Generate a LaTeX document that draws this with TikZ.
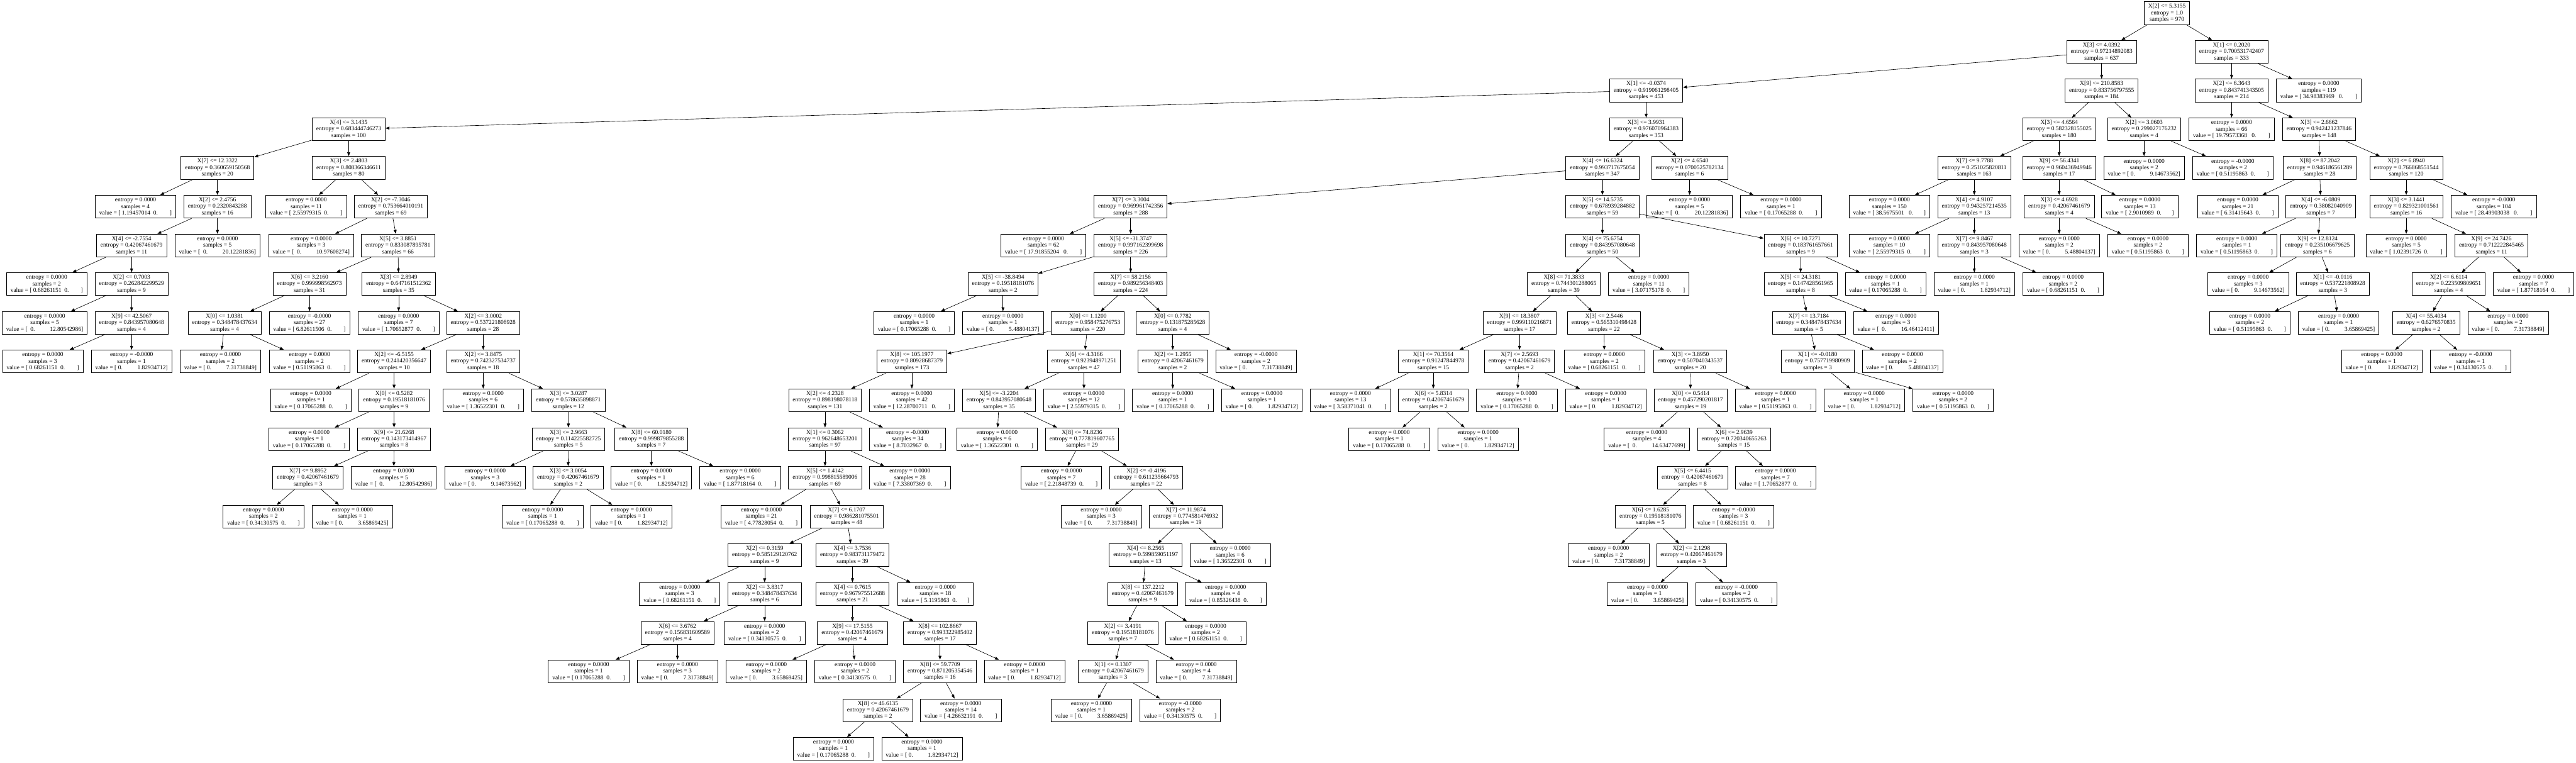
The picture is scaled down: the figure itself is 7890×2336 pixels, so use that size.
\documentclass[tikz,border=0pt]{standalone}
\usepackage{fontspec}
\setmainfont{Liberation Serif}
\usepackage{tikz}
\usetikzlibrary{arrows.meta}
\newcommand{\spgap}[1]{\hspace*{#1\fontdimen2\font}}

\begin{document}
\begin{tikzpicture}[x=0.01cm, y=-0.01cm]
                  \tikzstyle{box}=[draw, rectangle, line width=0.45pt, align=center, font=\fontsize{5.2}{5.66}\selectfont, inner xsep=0.125cm, inner ysep=0pt, minimum height=0.7cm]
                  \tikzstyle{every edge}=[draw, line width=0.35pt, -{Triangle[length=1.2mm, width=0.9mm]}]
                  \useasboundingbox (0,0) rectangle (7890,2336);

                  \node[box] (n0) at (6637,40) {X[2] <= 5.3155\\entropy = 1.0\\samples = 970};
                  \node[box] (n1) at (6437,159) {X[3] <= 4.0392\\entropy = 0.97214892083\\samples = 637};
                  \node[box] (n2) at (5042,277) {X[1] <= -0.0374\\entropy = 0.919061298405\\samples = 453};
                  \node[box] (n3) at (1068,396) {X[4] <= 3.1435\\entropy = 0.683444746273\\samples = 100};
                  \node[box] (n4) at (666,514) {X[7] <= 12.3322\\entropy = 0.360659150568\\samples = 20};
                  \node[box] (n5) at (415,633) {entropy = 0.0000\\samples = 4\\value = [ 1.19457014\spgap{2}0.\spgap{8}]};
                  \node[box] (n6) at (666,633) {X[2] <= 2.4756\\entropy = 0.2320843288\\samples = 16};
                  \node[box] (n7) at (403,752) {X[4] <= -2.7554\\entropy = 0.42067461679\\samples = 11};
                  \node[box] (n8) at (143,870) {entropy = 0.0000\\samples = 2\\value = [ 0.68261151\spgap{2}0.\spgap{8}]};
                  \node[box] (n9) at (403,870) {X[2] <= 0.7003\\entropy = 0.262842299529\\samples = 9};
                  \node[box] (n10) at (137,989) {entropy = 0.0000\\samples = 5\\value = [\spgap{2}0.\spgap{10}12.80542986]};
                  \node[box] (n11) at (403,989) {X[9] <= 42.5067\\entropy = 0.843957080648\\samples = 4};
                  \node[box] (n12) at (131,1107) {entropy = 0.0000\\samples = 3\\value = [ 0.68261151\spgap{2}0.\spgap{8}]};
                  \node[box] (n13) at (403,1107) {entropy = -0.0000\\samples = 1\\value = [ 0.\spgap{10}1.82934712]};
                  \node[box] (n14) at (666,752) {entropy = 0.0000\\samples = 5\\value = [\spgap{2}0.\spgap{10}20.12281836]};
                  \node[box] (n15) at (1068,514) {X[3] <= 2.4803\\entropy = 0.808366346611\\samples = 80};
                  \node[box] (n16) at (938,633) {entropy = 0.0000\\samples = 11\\value = [ 2.55979315\spgap{2}0.\spgap{8}]};
                  \node[box] (n17) at (1197,633) {X[2] <= -7.3046\\entropy = 0.753664010191\\samples = 69};
                  \node[box] (n18) at (953,752) {entropy = 0.0000\\samples = 3\\value = [\spgap{2}0.\spgap{10}10.97608274]};
                  \node[box] (n19) at (1219,752) {X[5] <= 3.8851\\entropy = 0.833087895781\\samples = 66};
                  \node[box] (n20) at (948,870) {X[6] <= 3.2160\\entropy = 0.999998562973\\samples = 31};
                  \node[box] (n21) at (688,989) {X[0] <= 1.0381\\entropy = 0.348478437634\\samples = 4};
                  \node[box] (n22) at (675,1107) {entropy = 0.0000\\samples = 2\\value = [ 0.\spgap{10}7.31738849]};
                  \node[box] (n23) at (948,1107) {entropy = 0.0000\\samples = 2\\value = [ 0.51195863\spgap{2}0.\spgap{8}]};
                  \node[box] (n24) at (948,989) {entropy = -0.0000\\samples = 27\\value = [ 6.82611506\spgap{2}0.\spgap{8}]};
                  \node[box] (n25) at (1221,870) {X[3] <= 2.8949\\entropy = 0.647161512362\\samples = 35};
                  \node[box] (n26) at (1221,989) {entropy = 0.0000\\samples = 7\\value = [ 1.70652877\spgap{2}0.\spgap{8}]};
                  \node[box] (n27) at (1480,989) {X[2] <= 3.0002\\entropy = 0.537221808928\\samples = 28};
                  \node[box] (n28) at (1207,1107) {X[2] <= -6.5155\\entropy = 0.241420356647\\samples = 10};
                  \node[box] (n29) at (952,1226) {entropy = 0.0000\\samples = 1\\value = [ 0.17065288\spgap{2}0.\spgap{8}]};
                  \node[box] (n30) at (1207,1226) {X[0] <= 0.5282\\entropy = 0.19518181076\\samples = 9};
                  \node[box] (n31) at (947,1345) {entropy = 0.0000\\samples = 1\\value = [ 0.17065288\spgap{2}0.\spgap{8}]};
                  \node[box] (n32) at (1207,1345) {X[9] <= 21.6268\\entropy = 0.143173414967\\samples = 8};
                  \node[box] (n33) at (943,1463) {X[7] <= 9.8952\\entropy = 0.42067461679\\samples = 3};
                  \node[box] (n34) at (807,1582) {entropy = 0.0000\\samples = 2\\value = [ 0.34130575\spgap{2}0.\spgap{8}]};
                  \node[box] (n35) at (1079,1582) {entropy = 0.0000\\samples = 1\\value = [ 0.\spgap{10}3.65869425]};
                  \node[box] (n36) at (1206,1463) {entropy = 0.0000\\samples = 5\\value = [\spgap{2}0.\spgap{10}12.80542986]};
                  \node[box] (n37) at (1480,1107) {X[2] <= 3.8475\\entropy = 0.742327534737\\samples = 18};
                  \node[box] (n38) at (1480,1226) {entropy = 0.0000\\samples = 6\\value = [ 1.36522301\spgap{2}0.\spgap{8}]};
                  \node[box] (n39) at (1741,1226) {X[3] <= 3.0287\\entropy = 0.578635898871\\samples = 12};
                  \node[box] (n40) at (1741,1345) {X[3] <= 2.9663\\entropy = 0.114225582725\\samples = 5};
                  \node[box] (n41) at (1486,1463) {entropy = 0.0000\\samples = 3\\value = [ 0.\spgap{10}9.14673562]};
                  \node[box] (n42) at (1740,1463) {X[3] <= 3.0054\\entropy = 0.42067461679\\samples = 2};
                  \node[box] (n43) at (1662,1582) {entropy = 0.0000\\samples = 1\\value = [ 0.17065288\spgap{2}0.\spgap{8}]};
                  \node[box] (n44) at (1934,1582) {entropy = 0.0000\\samples = 1\\value = [ 0.\spgap{10}1.82934712]};
                  \node[box] (n45) at (1995,1345) {X[8] <= 60.0180\\entropy = 0.999879855288\\samples = 7};
                  \node[box] (n46) at (1995,1463) {entropy = 0.0000\\samples = 1\\value = [ 0.\spgap{10}1.82934712]};
                  \node[box] (n47) at (2267,1463) {entropy = 0.0000\\samples = 6\\value = [ 1.87718164\spgap{2}0.\spgap{8}]};
                  \node[box] (n48) at (5042,396) {X[3] <= 3.9931\\entropy = 0.976070964383\\samples = 353};
                  \node[box] (n49) at (4908,514) {X[4] <= 16.6324\\entropy = 0.993717675054\\samples = 347};
                  \node[box] (n50) at (3463,633) {X[7] <= 3.3004\\entropy = 0.969961742356\\samples = 288};
                  \node[box] (n51) at (3196,752) {entropy = 0.0000\\samples = 62\\value = [ 17.91855204\spgap{3}0.\spgap{8}]};
                  \node[box] (n52) at (3463,752) {X[5] <= -31.3747\\entropy = 0.997162399698\\samples = 226};
                  \node[box] (n53) at (3072,870) {X[5] <= -38.8494\\entropy = 0.19518181076\\samples = 2};
                  \node[box] (n54) at (2800,989) {entropy = 0.0000\\samples = 1\\value = [ 0.17065288\spgap{2}0.\spgap{8}]};
                  \node[box] (n55) at (3072,989) {entropy = 0.0000\\samples = 1\\value = [ 0.\spgap{10}5.48804137]};
                  \node[box] (n56) at (3463,870) {X[7] <= 58.2156\\entropy = 0.989256348403\\samples = 224};
                  \node[box] (n57) at (3332,989) {X[0] <= 1.1200\\entropy = 0.958475276753\\samples = 220};
                  \node[box] (n58) at (2793,1107) {X[8] <= 105.1977\\entropy = 0.80928687379\\samples = 173};
                  \node[box] (n59) at (2527,1226) {X[2] <= 4.2328\\entropy = 0.898198078118\\samples = 131};
                  \node[box] (n60) at (2527,1345) {X[1] <= 0.3062\\entropy = 0.962648653201\\samples = 97};
                  \node[box] (n61) at (2527,1463) {X[5] <= 1.4142\\entropy = 0.998815589006\\samples = 69};
                  \node[box] (n62) at (2332,1582) {entropy = 0.0000\\samples = 21\\value = [ 4.77828054\spgap{2}0.\spgap{8}]};
                  \node[box] (n63) at (2593,1582) {X[7] <= 6.1707\\entropy = 0.986281075501\\samples = 48};
                  \node[box] (n64) at (2342,1700) {X[2] <= 0.3159\\entropy = 0.585129120762\\samples = 9};
                  \node[box] (n65) at (2082,1819) {entropy = 0.0000\\samples = 3\\value = [ 0.68261151\spgap{2}0.\spgap{8}]};
                  \node[box] (n66) at (2342,1819) {X[2] <= 3.8317\\entropy = 0.348478437634\\samples = 6};
                  \node[box] (n67) at (2075,1938) {X[6] <= 3.6762\\entropy = 0.156831609589\\samples = 4};
                  \node[box] (n68) at (1803,2056) {entropy = 0.0000\\samples = 1\\value = [ 0.17065288\spgap{2}0.\spgap{8}]};
                  \node[box] (n69) at (2075,2056) {entropy = 0.0000\\samples = 3\\value = [ 0.\spgap{10}7.31738849]};
                  \node[box] (n70) at (2342,1938) {entropy = 0.0000\\samples = 2\\value = [ 0.34130575\spgap{2}0.\spgap{8}]};
                  \node[box] (n71) at (2611,1700) {X[4] <= 3.7536\\entropy = 0.983731179472\\samples = 39};
                  \node[box] (n72) at (2611,1819) {X[4] <= 0.7615\\entropy = 0.967975512688\\samples = 21};
                  \node[box] (n73) at (2611,1938) {X[9] <= 17.5155\\entropy = 0.42067461679\\samples = 4};
                  \node[box] (n74) at (2347,2056) {entropy = 0.0000\\samples = 2\\value = [ 0.\spgap{10}3.65869425]};
                  \node[box] (n75) at (2619,2056) {entropy = 0.0000\\samples = 2\\value = [ 0.34130575\spgap{2}0.\spgap{8}]};
                  \node[box] (n76) at (2879,1938) {X[8] <= 102.8667\\entropy = 0.993322985402\\samples = 17};
                  \node[box] (n77) at (2879,2056) {X[8] <= 59.7709\\entropy = 0.871205354546\\samples = 16};
                  \node[box] (n78) at (2689,2175) {X[8] <= 46.6135\\entropy = 0.42067461679\\samples = 2};
                  \node[box] (n79) at (2553,2293) {entropy = 0.0000\\samples = 1\\value = [ 0.17065288\spgap{2}0.\spgap{8}]};
                  \node[box] (n80) at (2824,2293) {entropy = 0.0000\\samples = 1\\value = [ 0.\spgap{10}1.82934712]};
                  \node[box] (n81) at (2943,2175) {entropy = 0.0000\\samples = 14\\value = [ 4.26632191\spgap{2}0.\spgap{8}]};
                  \node[box] (n82) at (3138,2056) {entropy = 0.0000\\samples = 1\\value = [ 0.\spgap{10}1.82934712]};
                  \node[box] (n83) at (2865,1819) {entropy = 0.0000\\samples = 18\\value = [ 5.1195863\spgap{2}0.\spgap{7}]};
                  \node[box] (n84) at (2787,1463) {entropy = 0.0000\\samples = 28\\value = [ 7.33807369\spgap{2}0.\spgap{8}]};
                  \node[box] (n85) at (2780,1345) {entropy = -0.0000\\samples = 34\\value = [ 8.7032967\spgap{2}0.\spgap{7}]};
                  \node[box] (n86) at (2793,1226) {entropy = 0.0000\\samples = 42\\value = [ 12.28700711\spgap{3}0.\spgap{8}]};
                  \node[box] (n87) at (3320,1107) {X[6] <= 4.3166\\entropy = 0.923948971251\\samples = 47};
                  \node[box] (n88) at (3060,1226) {X[5] <= -3.2204\\entropy = 0.843957080648\\samples = 35};
                  \node[box] (n89) at (3054,1345) {entropy = 0.0000\\samples = 6\\value = [ 1.36522301\spgap{2}0.\spgap{8}]};
                  \node[box] (n90) at (3314,1345) {X[8] <= 74.8236\\entropy = 0.777819607765\\samples = 29};
                  \node[box] (n91) at (3251,1463) {entropy = 0.0000\\samples = 7\\value = [ 2.21848739\spgap{2}0.\spgap{8}]};
                  \node[box] (n92) at (3511,1463) {X[2] <= -0.4196\\entropy = 0.611235664793\\samples = 22};
                  \node[box] (n93) at (3373,1582) {entropy = 0.0000\\samples = 3\\value = [ 0.\spgap{10}7.31738849]};
                  \node[box] (n94) at (3632,1582) {X[7] <= 11.9874\\entropy = 0.774581476932\\samples = 19};
                  \node[box] (n95) at (3509,1700) {X[4] <= 8.2565\\entropy = 0.599859051197\\samples = 13};
                  \node[box] (n96) at (3500,1819) {X[8] <= 137.2212\\entropy = 0.42067461679\\samples = 9};
                  \node[box] (n97) at (3439,1938) {X[2] <= 3.4191\\entropy = 0.19518181076\\samples = 7};
                  \node[box] (n98) at (3409,2056) {X[1] <= 0.1307\\entropy = 0.42067461679\\samples = 3};
                  \node[box] (n99) at (3343,2175) {entropy = 0.0000\\samples = 1\\value = [ 0.\spgap{10}3.65869425]};
                  \node[box] (n100) at (3615,2175) {entropy = -0.0000\\samples = 2\\value = [ 0.34130575\spgap{2}0.\spgap{8}]};
                  \node[box] (n101) at (3664,2056) {entropy = 0.0000\\samples = 4\\value = [ 0.\spgap{10}7.31738849]};
                  \node[box] (n102) at (3693,1938) {entropy = 0.0000\\samples = 2\\value = [ 0.68261151\spgap{2}0.\spgap{8}]};
                  \node[box] (n103) at (3754,1819) {entropy = 0.0000\\samples = 4\\value = [ 0.85326438\spgap{2}0.\spgap{8}]};
                  \node[box] (n104) at (3768,1700) {entropy = 0.0000\\samples = 6\\value = [ 1.36522301\spgap{2}0.\spgap{8}]};
                  \node[box] (n105) at (3320,1226) {entropy = 0.0000\\samples = 12\\value = [ 2.55979315\spgap{2}0.\spgap{8}]};
                  \node[box] (n106) at (3592,989) {X[0] <= 0.7782\\entropy = 0.131875285628\\samples = 4};
                  \node[box] (n107) at (3592,1107) {X[2] <= 1.2955\\entropy = 0.42067461679\\samples = 2};
                  \node[box] (n108) at (3592,1226) {entropy = 0.0000\\samples = 1\\value = [ 0.17065288\spgap{2}0.\spgap{8}]};
                  \node[box] (n109) at (3865,1226) {entropy = 0.0000\\samples = 1\\value = [ 0.\spgap{10}1.82934712]};
                  \node[box] (n110) at (3847,1107) {entropy = -0.0000\\samples = 2\\value = [ 0.\spgap{10}7.31738849]};
                  \node[box] (n111) at (4908,633) {X[5] <= 14.5735\\entropy = 0.678939284882\\samples = 59};
                  \node[box] (n112) at (4908,752) {X[4] <= 75.6754\\entropy = 0.843957080648\\samples = 50};
                  \node[box] (n113) at (4790,870) {X[8] <= 71.3833\\entropy = 0.744301288065\\samples = 39};
                  \node[box] (n114) at (4654,989) {X[9] <= 18.3807\\entropy = 0.999110216871\\samples = 17};
                  \node[box] (n115) at (4390,1107) {X[1] <= 70.3564\\entropy = 0.91247844978\\samples = 15};
                  \node[box] (n116) at (4136,1226) {entropy = 0.0000\\samples = 13\\value = [ 3.58371041\spgap{2}0.\spgap{8}]};
                  \node[box] (n117) at (4390,1226) {X[6] <= 5.8314\\entropy = 0.42067461679\\samples = 2};
                  \node[box] (n118) at (4255,1345) {entropy = 0.0000\\samples = 1\\value = [ 0.17065288\spgap{2}0.\spgap{8}]};
                  \node[box] (n119) at (4527,1345) {entropy = 0.0000\\samples = 1\\value = [ 0.\spgap{10}1.82934712]};
                  \node[box] (n120) at (4654,1107) {X[7] <= 2.5693\\entropy = 0.42067461679\\samples = 2};
                  \node[box] (n121) at (4646,1226) {entropy = 0.0000\\samples = 1\\value = [ 0.17065288\spgap{2}0.\spgap{8}]};
                  \node[box] (n122) at (4918,1226) {entropy = 0.0000\\samples = 1\\value = [ 0.\spgap{10}1.82934712]};
                  \node[box] (n123) at (4913,989) {X[3] <= 2.5446\\entropy = 0.565310498428\\samples = 22};
                  \node[box] (n124) at (4914,1107) {entropy = 0.0000\\samples = 2\\value = [ 0.68261151\spgap{2}0.\spgap{8}]};
                  \node[box] (n125) at (5177,1107) {X[3] <= 3.8950\\entropy = 0.507040343537\\samples = 20};
                  \node[box] (n126) at (5178,1226) {X[0] <= 0.5414\\entropy = 0.457290201817\\samples = 19};
                  \node[box] (n127) at (5044,1345) {entropy = 0.0000\\samples = 4\\value = [\spgap{2}0.\spgap{10}14.63477699]};
                  \node[box] (n128) at (5311,1345) {X[6] <= 2.9639\\entropy = 0.720340655263\\samples = 15};
                  \node[box] (n129) at (5184,1463) {X[5] <= 6.4415\\entropy = 0.42067461679\\samples = 8};
                  \node[box] (n130) at (5055,1582) {X[6] <= 1.6285\\entropy = 0.19518181076\\samples = 5};
                  \node[box] (n131) at (4927,1700) {entropy = 0.0000\\samples = 2\\value = [ 0.\spgap{10}7.31738849]};
                  \node[box] (n132) at (5181,1700) {X[2] <= 2.1298\\entropy = 0.42067461679\\samples = 3};
                  \node[box] (n133) at (5046,1819) {entropy = 0.0000\\samples = 1\\value = [ 0.\spgap{10}3.65869425]};
                  \node[box] (n134) at (5318,1819) {entropy = -0.0000\\samples = 2\\value = [ 0.34130575\spgap{2}0.\spgap{8}]};
                  \node[box] (n135) at (5310,1582) {entropy = -0.0000\\samples = 3\\value = [ 0.68261151\spgap{2}0.\spgap{8}]};
                  \node[box] (n136) at (5438,1463) {entropy = 0.0000\\samples = 7\\value = [ 1.70652877\spgap{2}0.\spgap{8}]};
                  \node[box] (n137) at (5438,1226) {entropy = 0.0000\\samples = 1\\value = [ 0.51195863\spgap{2}0.\spgap{8}]};
                  \node[box] (n138) at (5050,870) {entropy = 0.0000\\samples = 11\\value = [ 3.07175178\spgap{2}0.\spgap{8}]};
                  \node[box] (n139) at (5515,752) {X[6] <= 10.7271\\entropy = 0.183761657661\\samples = 9};
                  \node[box] (n140) at (5515,870) {X[5] <= 24.3181\\entropy = 0.147428561965\\samples = 8};
                  \node[box] (n141) at (5540,989) {X[7] <= 13.7184\\entropy = 0.348478437634\\samples = 5};
                  \node[box] (n142) at (5567,1107) {X[1] <= -0.0180\\entropy = 0.757719980909\\samples = 3};
                  \node[box] (n143) at (5710,1226) {entropy = 0.0000\\samples = 1\\value = [ 0.\spgap{10}1.82934712]};
                  \node[box] (n144) at (5982,1226) {entropy = 0.0000\\samples = 2\\value = [ 0.51195863\spgap{2}0.\spgap{8}]};
                  \node[box] (n145) at (5827,1107) {entropy = 0.0000\\samples = 2\\value = [ 0.\spgap{10}5.48804137]};
                  \node[box] (n146) at (5807,989) {entropy = 0.0000\\samples = 3\\value = [\spgap{2}0.\spgap{10}16.46412411]};
                  \node[box] (n147) at (5775,870) {entropy = 0.0000\\samples = 1\\value = [ 0.17065288\spgap{2}0.\spgap{8}]};
                  \node[box] (n148) at (5175,514) {X[2] <= 4.6540\\entropy = 0.0700525782134\\samples = 6};
                  \node[box] (n149) at (5175,633) {entropy = 0.0000\\samples = 5\\value = [\spgap{2}0.\spgap{10}20.12281836]};
                  \node[box] (n150) at (5455,633) {entropy = 0.0000\\samples = 1\\value = [ 0.17065288\spgap{2}0.\spgap{8}]};
                  \node[box] (n151) at (6437,277) {X[9] <= 210.8583\\entropy = 0.833756797555\\samples = 184};
                  \node[box] (n152) at (6307,396) {X[3] <= 4.6564\\entropy = 0.582328155025\\samples = 180};
                  \node[box] (n153) at (6047,514) {X[7] <= 9.7788\\entropy = 0.251025820811\\samples = 163};
                  \node[box] (n154) at (5787,633) {entropy = 0.0000\\samples = 150\\value = [ 38.5675501\spgap{3}0.\spgap{7}]};
                  \node[box] (n155) at (6047,633) {X[4] <= 4.9107\\entropy = 0.943257214535\\samples = 13};
                  \node[box] (n156) at (5787,752) {entropy = 0.0000\\samples = 10\\value = [ 2.55979315\spgap{2}0.\spgap{8}]};
                  \node[box] (n157) at (6047,752) {X[7] <= 9.8467\\entropy = 0.843957080648\\samples = 3};
                  \node[box] (n158) at (6047,870) {entropy = 0.0000\\samples = 1\\value = [ 0.\spgap{10}1.82934712]};
                  \node[box] (n159) at (6319,870) {entropy = 0.0000\\samples = 2\\value = [ 0.68261151\spgap{2}0.\spgap{8}]};
                  \node[box] (n160) at (6307,514) {X[9] <= 56.4341\\entropy = 0.960436949946\\samples = 17};
                  \node[box] (n161) at (6307,633) {X[3] <= 4.6928\\entropy = 0.42067461679\\samples = 4};
                  \node[box] (n162) at (6307,752) {entropy = 0.0000\\samples = 2\\value = [ 0.\spgap{10}5.48804137]};
                  \node[box] (n163) at (6579,752) {entropy = 0.0000\\samples = 2\\value = [ 0.51195863\spgap{2}0.\spgap{8}]};
                  \node[box] (n164) at (6554,633) {entropy = 0.0000\\samples = 13\\value = [ 2.9010989\spgap{2}0.\spgap{7}]};
                  \node[box] (n165) at (6567,396) {X[2] <= 3.0603\\entropy = 0.299027176232\\samples = 4};
                  \node[box] (n166) at (6567,514) {entropy = 0.0000\\samples = 2\\value = [ 0.\spgap{10}9.14673562]};
                  \node[box] (n167) at (6839,514) {entropy = -0.0000\\samples = 2\\value = [ 0.51195863\spgap{2}0.\spgap{8}]};
                  \node[box] (n168) at (6835,159) {X[1] <= 0.2020\\entropy = 0.700531742407\\samples = 333};
                  \node[box] (n169) at (6835,277) {X[2] <= 6.3643\\entropy = 0.843741343505\\samples = 214};
                  \node[box] (n170) at (6835,396) {entropy = 0.0000\\samples = 66\\value = [ 19.79573368\spgap{3}0.\spgap{8}]};
                  \node[box] (n171) at (7103,396) {X[3] <= 2.6662\\entropy = 0.942421237846\\samples = 148};
                  \node[box] (n172) at (7105,514) {X[8] <= 87.2042\\entropy = 0.946186561289\\samples = 28};
                  \node[box] (n173) at (6854,633) {entropy = 0.0000\\samples = 21\\value = [ 6.31415643\spgap{2}0.\spgap{8}]};
                  \node[box] (n174) at (7108,633) {X[4] <= -6.0809\\entropy = 0.38082040909\\samples = 7};
                  \node[box] (n175) at (6851,752) {entropy = 0.0000\\samples = 1\\value = [ 0.51195863\spgap{2}0.\spgap{8}]};
                  \node[box] (n176) at (7098,752) {X[9] <= 12.8124\\entropy = 0.235106679625\\samples = 6};
                  \node[box] (n177) at (6886,870) {entropy = 0.0000\\samples = 3\\value = [ 0.\spgap{10}9.14673562]};
                  \node[box] (n178) at (7145,870) {X[1] <= -0.0116\\entropy = 0.537221808928\\samples = 3};
                  \node[box] (n179) at (6891,989) {entropy = 0.0000\\samples = 2\\value = [ 0.51195863\spgap{2}0.\spgap{8}]};
                  \node[box] (n180) at (7163,989) {entropy = 0.0000\\samples = 1\\value = [ 0.\spgap{10}3.65869425]};
                  \node[box] (n181) at (7370,514) {X[2] <= 6.8940\\entropy = 0.766868551544\\samples = 120};
                  \node[box] (n182) at (7370,633) {X[3] <= 3.1441\\entropy = 0.829321001561\\samples = 16};
                  \node[box] (n183) at (7370,752) {entropy = 0.0000\\samples = 5\\value = [ 1.02391726\spgap{2}0.\spgap{8}]};
                  \node[box] (n184) at (7631,752) {X[9] <= 24.7426\\entropy = 0.712222845465\\samples = 11};
                  \node[box] (n185) at (7500,870) {X[2] <= 6.6114\\entropy = 0.223509809651\\samples = 4};
                  \node[box] (n186) at (7431,989) {X[4] <= 55.4034\\entropy = 0.6276570835\\samples = 2};
                  \node[box] (n187) at (7295,1107) {entropy = 0.0000\\samples = 1\\value = [ 0.\spgap{10}1.82934712]};
                  \node[box] (n188) at (7567,1107) {entropy = -0.0000\\samples = 1\\value = [ 0.34130575\spgap{2}0.\spgap{8}]};
                  \node[box] (n189) at (7682,989) {entropy = 0.0000\\samples = 2\\value = [ 0.\spgap{10}7.31738849]};
                  \node[box] (n190) at (7760,870) {entropy = 0.0000\\samples = 7\\value = [ 1.87718164\spgap{2}0.\spgap{8}]};
                  \node[box] (n191) at (7638,633) {entropy = -0.0000\\samples = 104\\value = [ 28.49903038\spgap{3}0.\spgap{8}]};
                  \node[box] (n192) at (7102,277) {entropy = 0.0000\\samples = 119\\value = [ 34.98383969\spgap{3}0.\spgap{8}]};

                  \path (n0) edge (n1) edge (n168);
                  \path (n1) edge (n2) edge (n151);
                  \path (n2) edge (n3) edge (n48);
                  \path (n3) edge (n4) edge (n15);
                  \path (n4) edge (n5) edge (n6);
                  \path (n6) edge (n7) edge (n14);
                  \path (n7) edge (n8) edge (n9);
                  \path (n9) edge (n10) edge (n11);
                  \path (n11) edge (n12) edge (n13);
                  \path (n15) edge (n16) edge (n17);
                  \path (n17) edge (n18) edge (n19);
                  \path (n19) edge (n20) edge (n25);
                  \path (n20) edge (n21) edge (n24);
                  \path (n21) edge (n22) edge (n23);
                  \path (n25) edge (n26) edge (n27);
                  \path (n27) edge (n28) edge (n37);
                  \path (n28) edge (n29) edge (n30);
                  \path (n30) edge (n31) edge (n32);
                  \path (n32) edge (n33) edge (n36);
                  \path (n33) edge (n34) edge (n35);
                  \path (n37) edge (n38) edge (n39);
                  \path (n39) edge (n40) edge (n45);
                  \path (n40) edge (n41) edge (n42);
                  \path (n42) edge (n43) edge (n44);
                  \path (n45) edge (n46) edge (n47);
                  \path (n48) edge (n49) edge (n148);
                  \path (n49) edge (n50) edge (n111);
                  \path (n50) edge (n51) edge (n52);
                  \path (n52) edge (n53) edge (n56);
                  \path (n53) edge (n54) edge (n55);
                  \path (n56) edge (n57) edge (n106);
                  \path (n57) edge (n58) edge (n87);
                  \path (n58) edge (n59) edge (n86);
                  \path (n59) edge (n60) edge (n85);
                  \path (n60) edge (n61) edge (n84);
                  \path (n61) edge (n62) edge (n63);
                  \path (n63) edge (n64) edge (n71);
                  \path (n64) edge (n65) edge (n66);
                  \path (n66) edge (n67) edge (n70);
                  \path (n67) edge (n68) edge (n69);
                  \path (n71) edge (n72) edge (n83);
                  \path (n72) edge (n73) edge (n76);
                  \path (n73) edge (n74) edge (n75);
                  \path (n76) edge (n77) edge (n82);
                  \path (n77) edge (n78) edge (n81);
                  \path (n78) edge (n79) edge (n80);
                  \path (n87) edge (n88) edge (n105);
                  \path (n88) edge (n89) edge (n90);
                  \path (n90) edge (n91) edge (n92);
                  \path (n92) edge (n93) edge (n94);
                  \path (n94) edge (n95) edge (n104);
                  \path (n95) edge (n96) edge (n103);
                  \path (n96) edge (n97) edge (n102);
                  \path (n97) edge (n98) edge (n101);
                  \path (n98) edge (n99) edge (n100);
                  \path (n106) edge (n107) edge (n110);
                  \path (n107) edge (n108) edge (n109);
                  \path (n111) edge (n112) edge (n139);
                  \path (n112) edge (n113) edge (n138);
                  \path (n113) edge (n114) edge (n123);
                  \path (n114) edge (n115) edge (n120);
                  \path (n115) edge (n116) edge (n117);
                  \path (n117) edge (n118) edge (n119);
                  \path (n120) edge (n121) edge (n122);
                  \path (n123) edge (n124) edge (n125);
                  \path (n125) edge (n126) edge (n137);
                  \path (n126) edge (n127) edge (n128);
                  \path (n128) edge (n129) edge (n136);
                  \path (n129) edge (n130) edge (n135);
                  \path (n130) edge (n131) edge (n132);
                  \path (n132) edge (n133) edge (n134);
                  \path (n139) edge (n140) edge (n147);
                  \path (n140) edge (n141) edge (n146);
                  \path (n141) edge (n142) edge (n145);
                  \path (n142) edge (n143) edge (n144);
                  \path (n148) edge (n149) edge (n150);
                  \path (n151) edge (n152) edge (n165);
                  \path (n152) edge (n153) edge (n160);
                  \path (n153) edge (n154) edge (n155);
                  \path (n155) edge (n156) edge (n157);
                  \path (n157) edge (n158) edge (n159);
                  \path (n160) edge (n161) edge (n164);
                  \path (n161) edge (n162) edge (n163);
                  \path (n165) edge (n166) edge (n167);
                  \path (n168) edge (n169) edge (n192);
                  \path (n169) edge (n170) edge (n171);
                  \path (n171) edge (n172) edge (n181);
                  \path (n172) edge (n173) edge (n174);
                  \path (n174) edge (n175) edge (n176);
                  \path (n176) edge (n177) edge (n178);
                  \path (n178) edge (n179) edge (n180);
                  \path (n181) edge (n182) edge (n191);
                  \path (n182) edge (n183) edge (n184);
                  \path (n184) edge (n185) edge (n190);
                  \path (n185) edge (n186) edge (n189);
                  \path (n186) edge (n187) edge (n188);
                \end{tikzpicture}
\end{document}
